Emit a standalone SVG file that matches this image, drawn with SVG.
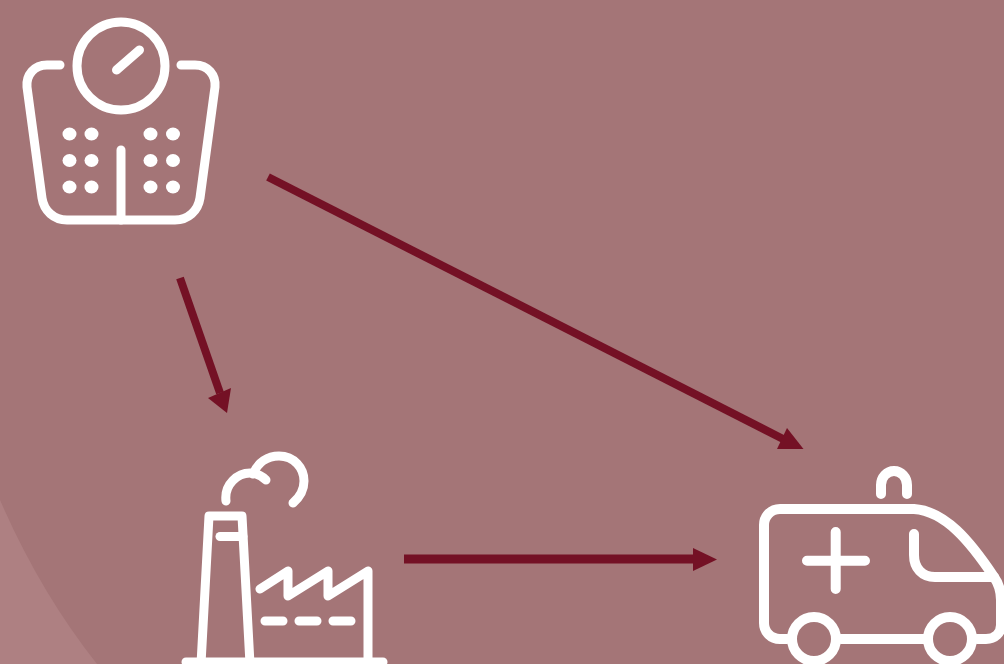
<svg xmlns="http://www.w3.org/2000/svg" width="1004" height="664" viewBox="0 0 1004 664">
<style>
.ic{fill:none;stroke:#fff;stroke-width:9;stroke-linecap:round;stroke-linejoin:round}
.amb{stroke-width:10}
.dot{fill:#fff}
.ln{fill:none;stroke:#741125;stroke-width:8}
.hd{fill:#741125}
</style>
<rect width="1004" height="664" fill="#a47577"/>
<path d="M0 500Q40 592 97 664H0Z" fill="#ae8082"/>
<g id="scale">
<circle class="ic" cx="121" cy="66" r="44"/>
<path class="ic" d="M116.500 70L139.500 50"/>
<path class="ic" d="M60 65H47C34 65 26 75 27 87L42 198C44 211 54 220 67 220H175C188 220 198 211 200 198L215 87C216 75 208 65 195 65H181"/>
<path class="ic" d="M121 150V220"/>
<g class="dot">
<ellipse cx="69.500" cy="134" rx="7" ry="6.500"/><ellipse cx="91.500" cy="134" rx="7" ry="6.500"/><ellipse cx="150.500" cy="134" rx="7" ry="6.500"/><ellipse cx="173" cy="134" rx="7" ry="6.500"/>
<ellipse cx="69.500" cy="160.500" rx="7" ry="6.500"/><ellipse cx="91.500" cy="160.500" rx="7" ry="6.500"/><ellipse cx="150.500" cy="160.500" rx="7" ry="6.500"/><ellipse cx="173" cy="160.500" rx="7" ry="6.500"/>
<ellipse cx="69.500" cy="187" rx="7" ry="6.500"/><ellipse cx="91.500" cy="187" rx="7" ry="6.500"/><ellipse cx="150.500" cy="187" rx="7" ry="6.500"/><ellipse cx="173" cy="187" rx="7" ry="6.500"/>
</g>
</g>
<g id="factory">
<path class="ic" d="M201 664L209 516H242L250 664"/>
<path class="ic" d="M220 536.500H243"/>
<path class="ic" d="M226 501C224 484 238 473 250 473C257 473 262 476 266 480"/>
<path class="ic" d="M253 474C258 462 268 456 279 456C294 456 304 468 304 481C304 490 300 497 293 503"/>
<path class="ic" d="M260 589L288 571V596L328 571V596L368 571V664"/>
<path class="ic" d="M265 621H283M299 621H317M333 621H351"/>
<path class="ic" d="M186 662H383"/>
</g>
<g id="ambulance">
<path class="ic amb" d="M787 639H780C771 639 764 632 764 623V525C764 516 771 509 780 509H914C945 511 970 541 994 577C999 584 1001 590 1001 600V625C1001 633 995 639 986 639H977"/>
<path class="ic amb" d="M841 639H924"/>
<circle class="ic amb" cx="814" cy="639" r="22"/>
<circle class="ic amb" cx="950" cy="639" r="22"/>
<path class="ic amb" d="M881 494V485A13 14 0 0 1 907 485V494"/>
<path class="ic amb" d="M807 560.700H865M835.700 532V589"/>
<path class="ic amb" d="M914 534V555C914 568 922 577 935 577H994"/>
</g>
<g id="connectors">
<path class="ln" d="M268 177L787 441"/>
<path class="hd" d="M787 428L777 449H803.500Z"/>
<path class="ln" d="M180 278L220 393"/>
<path class="hd" d="M227 413L208 398L231 388Z"/>
<path class="ln" style="stroke-width:9" d="M404 559H695"/>
<path class="hd" d="M693 548L717 559.500L693 571Z"/>
</g>
</svg>
